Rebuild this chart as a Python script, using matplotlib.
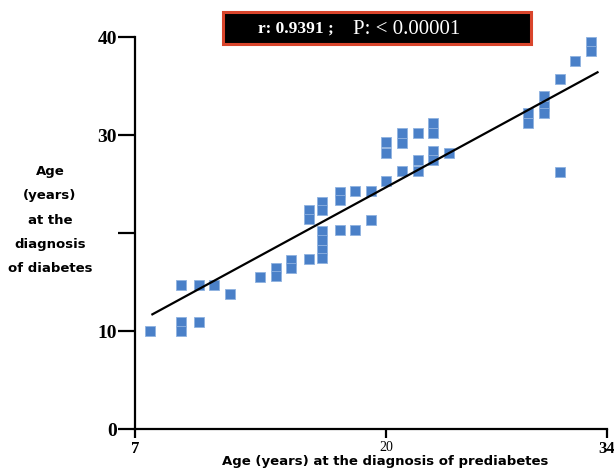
import numpy as np
import matplotlib
matplotlib.use("Agg")
import matplotlib.pyplot as plt
from matplotlib.patches import Rectangle

# age at prediabetes (x) vs age at diabetes (y)
age_prediabetes = [7.8,
                   9.4, 9.4, 9.4,
                   10.3, 10.3,
                   11.1, 11.9, 13.5,
                   14.3, 14.3,
                   15.1, 15.1,
                   16.0, 16.0, 16.0,
                   16.7, 16.7, 16.7, 16.7, 16.7, 16.7,
                   17.6, 17.6, 17.6,
                   18.4, 18.4,
                   19.2, 19.2,
                   20, 20, 20,
                   21, 21, 21,
                   22, 22, 22,
                   23, 23, 23, 23,
                   24,
                   29, 29,
                   30, 30, 30,
                   31, 31,
                   32,
                   33, 33]
age_diabetes = [10.0,
                14.7, 10.9, 10.0,
                14.7, 10.9,
                14.7, 13.8, 15.5,
                16.4, 15.6,
                17.2, 16.4,
                22.3, 21.4, 17.3,
                23.2, 22.3, 20.2, 19.3, 18.3, 17.4,
                24.2, 23.4, 20.3,
                24.3, 20.3,
                24.3, 21.3,
                29.3, 28.2, 25.3,
                30.2, 29.2, 26.3,
                30.2, 27.4, 26.3,
                31.2, 30.2, 28.4, 27.4,
                28.2,
                32.2, 31.2,
                34.0, 33.0, 32.2,
                35.7, 26.2,
                37.6,
                39.5, 38.6]

# fitted line end points
fit_x = [7.9, 33.4]
fit_y = [11.7, 36.4]

x_ticks = [7, 20, 34]
y_ticks = [0, 10, 20, 30, 40]
y_tick_labels = ['0', '10', '', '30', '40']
stats_r = "r: 0.9391 ;"
stats_p = "P: < 0.00001"


# the source axis is not evenly spaced: 7-20 is wider than 20-34
def fwd(x):
    x = np.asarray(x, float)
    return np.where(x <= 20, (x - 7) * 19.31, 251 + (x - 20) * 15.79)


def inv(u):
    u = np.asarray(u, float)
    return np.where(u <= 251, 7 + u / 19.31, 20 + (u - 251) / 15.79)


fig = plt.figure(figsize=(6.14, 4.70), dpi=100)
ax = fig.add_axes([135 / 614, 41 / 470, 472 / 614, 392 / 470])
ax.set_xscale('function', functions=(fwd, inv))

ax.scatter(age_prediabetes, age_diabetes, marker='s', s=56, color='#4a80c8',
           edgecolors='#8fb2e0', linewidths=0.6, zorder=3, clip_on=False)
ax.plot(fit_x, fit_y, color='black', lw=1.6, zorder=4)

ax.set_xlim(7, 34)
ax.set_ylim(0, 40)
for s in ['top', 'right']:
    ax.spines[s].set_visible(False)
for s in ['left', 'bottom']:
    ax.spines[s].set_linewidth(1.6)

ax.set_xticks(x_ticks)
ax.set_xticklabels([str(t) for t in x_ticks])
ax.set_yticks(y_ticks)
ax.set_yticklabels(y_tick_labels)
ax.minorticks_off()
ax.tick_params(axis='y', direction='out', length=12, width=1.6, pad=1)
ax.tick_params(axis='x', direction='out', length=6.5, width=1.6, pad=2)

for lab in ax.get_yticklabels():
    lab.set_fontfamily('Liberation Serif')
    lab.set_fontsize(14)
    lab.set_fontweight('bold')
for lab, t in zip(ax.get_xticklabels(), x_ticks):
    lab.set_fontfamily('Liberation Serif')
    if t == 20:
        lab.set_fontsize(10)
    else:
        lab.set_fontsize(12)
        lab.set_fontweight('bold')

fig.text(50 / 614, (470 - 220) / 470,
         "Age\n(years)\nat the\ndiagnosis\nof diabetes",
         ha='center', va='center', fontsize=9.5, fontweight='bold',
         linespacing=2.15, family='DejaVu Sans')
fig.text(385 / 614, (470 - 462) / 470,
         "Age (years) at the diagnosis of prediabetes",
         ha='center', va='center', fontsize=9.5, fontweight='bold',
         family='DejaVu Sans')

# stats box at the top
fig.patches.append(Rectangle((223 / 614, (470 - 44) / 470), 308 / 614, 32 / 470,
                             transform=fig.transFigure, facecolor='black',
                             edgecolor='#d9452c', lw=2.2))
fig.text(334 / 614, (470 - 29) / 470, stats_r, ha='right', va='center',
         color='white', fontsize=12.5, fontweight='bold', family='Liberation Serif')
fig.text(353 / 614, (470 - 29) / 470, stats_p, ha='left', va='center',
         color='white', fontsize=15, family='Liberation Serif')

fig.savefig('out.png', dpi=100)
